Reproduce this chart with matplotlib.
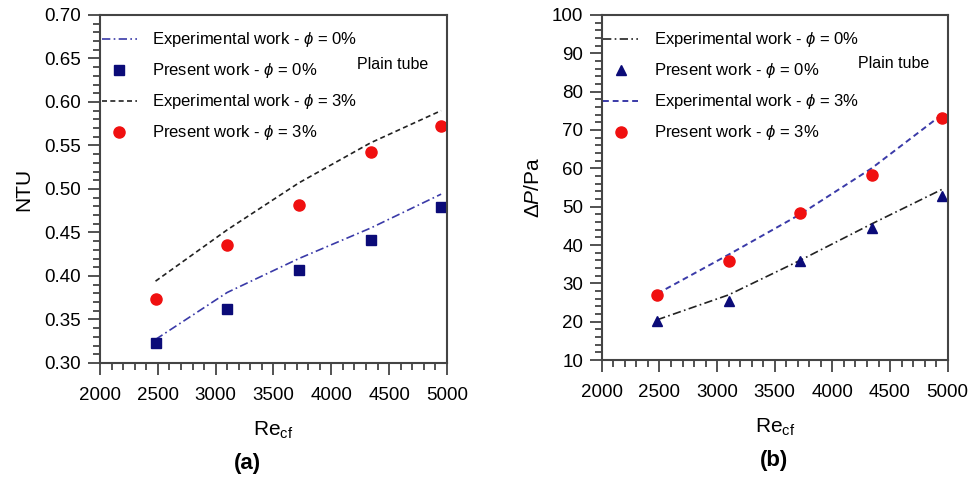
import matplotlib
matplotlib.use("Agg")
import matplotlib.pyplot as plt
from matplotlib.ticker import MultipleLocator, FormatStrFormatter

plt.rcParams['font.family'] = ['Liberation Sans', 'DejaVu Sans']
plt.rcParams['mathtext.fontset'] = 'custom'
plt.rcParams['mathtext.it'] = 'Liberation Sans:italic'
plt.rcParams['mathtext.rm'] = 'Liberation Sans'

# Reynolds numbers of the cold fluid
re_cf = [2480, 3100, 3720, 4340, 4950]

# (a) NTU
ntu_exp_0 = [0.327, 0.381, 0.420, 0.455, 0.494]
ntu_sim_0 = [0.323, 0.362, 0.407, 0.441, 0.479]
ntu_exp_3 = [0.394, 0.453, 0.507, 0.553, 0.590]
ntu_sim_3 = [0.373, 0.436, 0.481, 0.543, 0.572]

# (b) pressure drop
dp_exp_0 = [20.5, 27.0, 36.0, 45.5, 54.5]
dp_sim_0 = [20.3, 25.5, 35.8, 44.5, 52.8]
dp_exp_3 = [27.3, 37.5, 48.0, 60.0, 74.0]
dp_sim_3 = [27.0, 35.8, 48.3, 58.2, 73.0]

navy = '#0b0b78'
blue_line = '#3a3aa8'
red = '#f01010'
spine_col = '#444444'

fig = plt.figure(figsize=(9.77, 4.82), dpi=100)
ax1 = fig.add_axes([0.1024, 0.247, 0.355, 0.722])
ax2 = fig.add_axes([0.616, 0.253, 0.354, 0.716])


def style_axes(ax):
    for s in ax.spines.values():
        s.set_color(spine_col)
        s.set_linewidth(1.5)
    ax.tick_params(which='both', direction='out', top=False, right=False,
                   color=spine_col, width=1.3, labelsize=13.5)
    ax.tick_params(which='major', length=8.5)
    ax.tick_params(which='minor', length=5)
    ax.tick_params(axis='x', which='major', pad=9)
    ax.tick_params(axis='y', which='major', pad=5)
    ax.set_xlim(2000, 5000)
    ax.xaxis.set_major_locator(MultipleLocator(500))
    ax.xaxis.set_minor_locator(MultipleLocator(100))
    ax.set_xlabel(r'Re$_{\mathregular{cf}}$', fontsize=15, labelpad=11)


lab0_exp = r'Experimental work - $\phi$ = 0%'
lab0_sim = r'Present work - $\phi$ = 0%'
lab3_exp = r'Experimental work - $\phi$ = 3%'
lab3_sim = r'Present work - $\phi$ = 3%'

# NTU panel
ax1.plot(re_cf, ntu_exp_0, linestyle=(0, (5, 2, 1, 2)), color=blue_line, lw=1.2, label=lab0_exp)
ax1.plot(re_cf, ntu_sim_0, 's', color=navy, ms=7.5, label=lab0_sim)
ax1.plot(re_cf, ntu_exp_3, linestyle=(0, (3, 2)), color='#222222', lw=1.2, label=lab3_exp)
ax1.plot(re_cf, ntu_sim_3, 'o', color=red, ms=8, label=lab3_sim)
style_axes(ax1)
ax1.set_ylim(0.30, 0.70)
ax1.yaxis.set_major_locator(MultipleLocator(0.05))
ax1.yaxis.set_minor_locator(MultipleLocator(0.01))
ax1.yaxis.set_major_formatter(FormatStrFormatter('%.2f'))
ax1.set_ylabel('NTU', fontsize=15, labelpad=8)
ax1.text(0.74, 0.845, 'Plain tube', transform=ax1.transAxes, fontsize=11.5)

# pressure drop panel
ax2.plot(re_cf, dp_exp_0, linestyle=(0, (5, 2, 1, 2)), color='#222222', lw=1.2, label=lab0_exp)
ax2.plot(re_cf, dp_sim_0, '^', color=navy, ms=7.5, label=lab0_sim)
ax2.plot(re_cf, dp_exp_3, linestyle=(0, (3, 2)), color=blue_line, lw=1.4, label=lab3_exp)
ax2.plot(re_cf, dp_sim_3, 'o', color=red, ms=8, label=lab3_sim)
style_axes(ax2)
ax2.set_ylim(10, 100)
ax2.yaxis.set_major_locator(MultipleLocator(10))
ax2.yaxis.set_minor_locator(MultipleLocator(2))
ax2.set_ylabel(r'$\Delta P$/Pa', fontsize=15, labelpad=6)
ax2.text(0.74, 0.845, 'Plain tube', transform=ax2.transAxes, fontsize=11.5)

for ax in (ax1, ax2):
    ax.legend(loc='upper left', bbox_to_anchor=(-0.005, 0.965), frameon=False,
              fontsize=12, handlelength=2.1, handletextpad=0.95,
              labelspacing=0.72, borderaxespad=0.0, borderpad=0.2)

fig.text(0.253, 0.028, '(a)', fontsize=16, fontweight='bold', ha='center')
fig.text(0.792, 0.033, '(b)', fontsize=16, fontweight='bold', ha='center')

fig.savefig('out.png', dpi=100)
